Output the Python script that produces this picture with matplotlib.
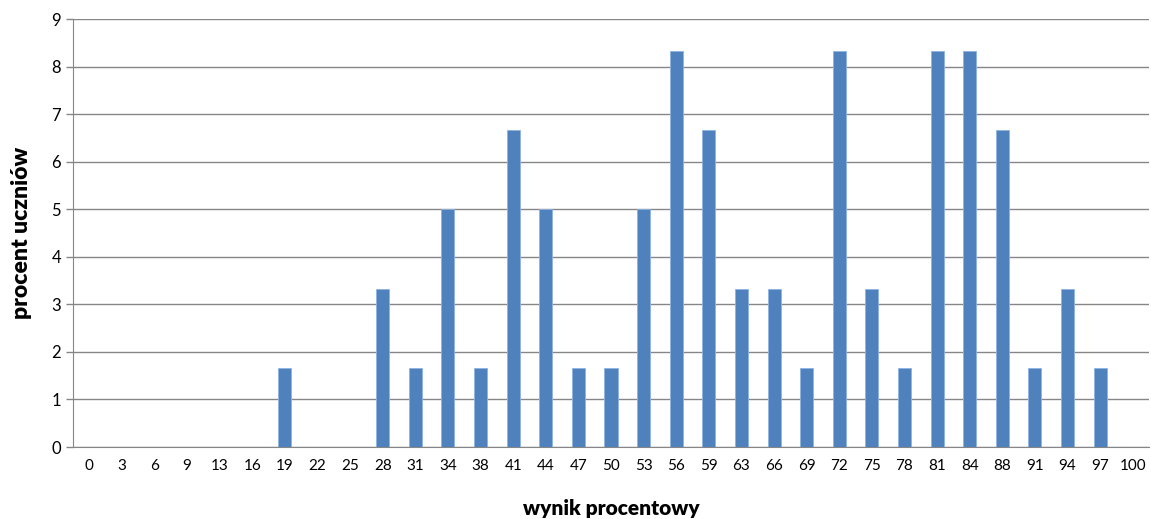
import matplotlib.pyplot as plt
import numpy as np

# wyniki procentowe (kategorie) i procent uczniów
wyniki = ["0", "3", "6", "9", "13", "16", "19", "22", "25", "28", "31", "34",
          "38", "41", "44", "47", "50", "53", "56", "59", "63", "66", "69",
          "72", "75", "78", "81", "84", "88", "91", "94", "97", "100"]
procent = [0, 0, 0, 0, 0, 0, 1.67, 0, 0, 3.33, 1.67, 5.0,
           1.67, 6.67, 5.0, 1.67, 1.67, 5.0, 8.33, 6.67, 3.33, 3.33, 1.67,
           8.33, 3.33, 1.67, 8.33, 8.33, 6.67, 1.67, 3.33, 1.67, 0]

plt.rcParams['font.family'] = ['Lato', 'DejaVu Sans']

fig = plt.figure(figsize=(11.51, 5.19), dpi=100)
ax = fig.add_axes([73/1151, 72/519, (1149-73)/1151, (447-19)/519])

x = np.arange(len(wyniki))
ax.bar(x, procent, width=0.4, color='#4F81BD', edgecolor='#8EB4E3',
       linewidth=0.6, zorder=3)

ax.set_xlim(-0.5, len(wyniki) - 0.5)
ax.set_ylim(0, 9)
ax.set_yticks(np.arange(0, 10, 1))
ax.set_xticks(x)
ax.set_xticklabels(wyniki, fontsize=11)
ax.tick_params(axis='y', labelsize=12, length=5, color='#868686', width=1)
ax.tick_params(axis='x', length=0, pad=9)
ax.grid(True, axis='y', color='#868686', linewidth=1, zorder=0)

for side in ['top', 'right']:
    ax.spines[side].set_visible(False)
ax.spines['left'].set_color('#868686')
ax.spines['bottom'].set_color('#868686')

ax.set_xlabel('wynik procentowy', fontsize=15, fontweight='heavy', labelpad=18)
ax.set_ylabel('procent uczniów', fontsize=16.5, fontweight='heavy', labelpad=14)

fig.savefig('out.png', dpi=100)
